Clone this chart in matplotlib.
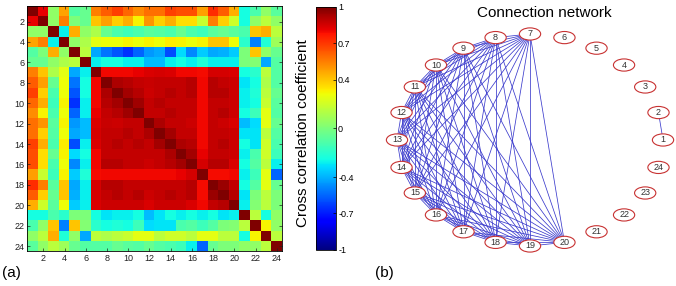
import numpy as np
import matplotlib
matplotlib.use("Agg")
import matplotlib.pyplot as plt
from matplotlib.patches import Ellipse

plt.rcParams["font.family"] = ["Liberation Sans", "DejaVu Sans"]
plt.rcParams["axes.unicode_minus"] = False

# upper triangle of the 24x24 cross correlation matrix, row i holds columns i..24
upper_rows = [
    [1.00, 0.82, 0.05, 0.47, -0.10, -0.05, 0.55, 0.62, 0.68, 0.60, 0.52, 0.58, 0.58, 0.68, 0.65, 0.65, 0.48, 0.72, 0.62, 0.45, -0.25, -0.12, 0.05, -0.08],
    [1.00, 0.05, 0.55, 0.00, -0.05, 0.40, 0.48, 0.38, 0.45, 0.30, 0.50, 0.38, 0.45, 0.35, 0.35, 0.18, 0.55, 0.38, 0.20, -0.25, 0.05, 0.15, 0.05],
    [1.00, -0.28, 0.45, 0.05, 0.12, -0.05, -0.12, -0.15, -0.12, -0.08, -0.10, -0.12, -0.05, -0.12, -0.15, -0.08, -0.05, -0.08, -0.12, 0.40, 0.45, 0.15],
    [1.00, 0.05, 0.12, 0.25, 0.28, 0.28, 0.30, 0.28, 0.30, 0.28, 0.32, 0.30, 0.28, 0.30, 0.40, 0.40, 0.28, -0.20, -0.50, -0.22, 0.08],
    [1.00, 0.15, -0.42, -0.52, -0.58, -0.65, -0.55, -0.45, -0.42, -0.60, -0.32, -0.48, -0.35, -0.42, -0.40, -0.35, 0.00, 0.40, 0.05, -0.05],
    [1.00, -0.28, -0.25, -0.25, -0.28, -0.28, -0.38, -0.38, -0.28, -0.25, -0.28, -0.22, -0.28, -0.28, -0.28, 0.00, 0.02, -0.42, -0.10],
    [1.00, 0.80, 0.80, 0.80, 0.82, 0.84, 0.85, 0.84, 0.80, 0.80, 0.79, 0.85, 0.85, 0.84, -0.25, -0.20, 0.15, -0.10],
    [1.00, 0.92, 0.90, 0.88, 0.87, 0.88, 0.88, 0.88, 0.90, 0.80, 0.90, 0.88, 0.86, -0.30, -0.25, 0.12, -0.10],
    [1.00, 0.93, 0.90, 0.86, 0.88, 0.90, 0.88, 0.90, 0.80, 0.90, 0.90, 0.86, -0.28, -0.22, 0.15, -0.05],
    [1.00, 0.94, 0.88, 0.90, 0.88, 0.88, 0.88, 0.80, 0.88, 0.88, 0.86, -0.28, -0.25, 0.18, -0.08],
    [1.00, 0.88, 0.88, 0.90, 0.88, 0.88, 0.80, 0.88, 0.90, 0.86, -0.25, -0.15, 0.25, -0.10],
    [1.00, 0.92, 0.88, 0.88, 0.86, 0.80, 0.88, 0.86, 0.84, -0.38, -0.32, 0.25, -0.05],
    [1.00, 0.93, 0.88, 0.88, 0.80, 0.88, 0.88, 0.86, -0.30, -0.30, 0.15, -0.10],
    [1.00, 0.92, 0.90, 0.80, 0.88, 0.90, 0.86, -0.25, -0.30, 0.20, -0.12],
    [1.00, 0.93, 0.82, 0.88, 0.88, 0.86, -0.28, -0.12, 0.20, -0.15],
    [1.00, 0.85, 0.90, 0.90, 0.84, -0.25, -0.10, 0.15, -0.28],
    [1.00, 0.79, 0.79, 0.80, -0.28, -0.15, 0.25, -0.55],
    [1.00, 0.95, 0.88, -0.25, -0.10, 0.25, -0.05],
    [1.00, 0.90, -0.30, 0.00, 0.15, 0.00],
    [1.00, -0.28, 0.02, 0.15, 0.00],
    [1.00, 0.15, -0.25, 0.05],
    [1.00, 0.30, 0.05],
    [1.00, 0.15],
    [1.00],
]
cbar_ticks = [-1, -0.7, -0.4, 0, 0.4, 0.7, 1]
cbar_labels = ["-1", "-0.7", "-0.4", "0", "0.4", "0.7", "1"]
threshold = 0.75

n = len(upper_rows)
corr = np.zeros((n, n))
for i, row in enumerate(upper_rows):
    corr[i, i:] = row
corr = corr + corr.T - np.diag(np.diag(corr))
nodes = np.arange(1, n + 1)

fig = plt.figure(figsize=(6.76, 2.86), dpi=100)

# (a) heatmap
ax = fig.add_axes([0.0405, 0.122, 0.377, 0.856])
im = ax.imshow(corr, cmap="jet", vmin=-1, vmax=1, aspect="auto",
               interpolation="nearest", extent=(0.5, n + 0.5, n + 0.5, 0.5))
ax.set_xticks(nodes[1::2])
ax.set_yticks(nodes[1::2])
ax.tick_params(direction="in", length=2.5, width=0.5, labelsize=6.5,
               top=True, right=True, pad=2, colors="#222222")
for s in ax.spines.values():
    s.set_linewidth(0.6)

cax = fig.add_axes([0.4675, 0.126, 0.0296, 0.85])
cb = fig.colorbar(im, cax=cax, ticks=cbar_ticks)
cb.ax.set_yticklabels(cbar_labels)
cb.ax.tick_params(direction="in", length=2.5, width=0.5, labelsize=6.5, pad=1.5)
cb.outline.set_linewidth(0.6)
fig.text(0.4475, 0.533, "Cross correlation coefficient", rotation=90,
         ha="center", va="center", fontsize=11)

# (b) connection network
axn = fig.add_axes([0.5873, 0.1399, 0.3935, 0.7413])
axn.set_xlim(-1, 1)
axn.set_ylim(-1, 1)
axn.axis("off")
ang = np.deg2rad((nodes - 1) * 15)
px, py = np.cos(ang), np.sin(ang)
for i in range(n):
    for j in range(i + 1, n):
        if corr[i, j] > threshold:
            axn.plot([px[i], px[j]], [py[i], py[j]], color="#3a3acc",
                     lw=0.55, zorder=1, clip_on=False)
for k in range(n):
    axn.add_patch(Ellipse((px[k], py[k]), 0.16, 0.115, facecolor="white",
                          edgecolor="#c83232", lw=0.8, zorder=2, clip_on=False))
    axn.text(px[k], py[k], str(nodes[k]), ha="center", va="center",
             fontsize=6.5, color="#333333", zorder=3)
fig.text(0.805, 0.956, "Connection network", ha="center", va="center", fontsize=11)

fig.text(0.003, 0.044, "(a)", ha="left", va="center", fontsize=11)
fig.text(0.555, 0.044, "(b)", ha="left", va="center", fontsize=11)

fig.savefig("out.png", dpi=100)
